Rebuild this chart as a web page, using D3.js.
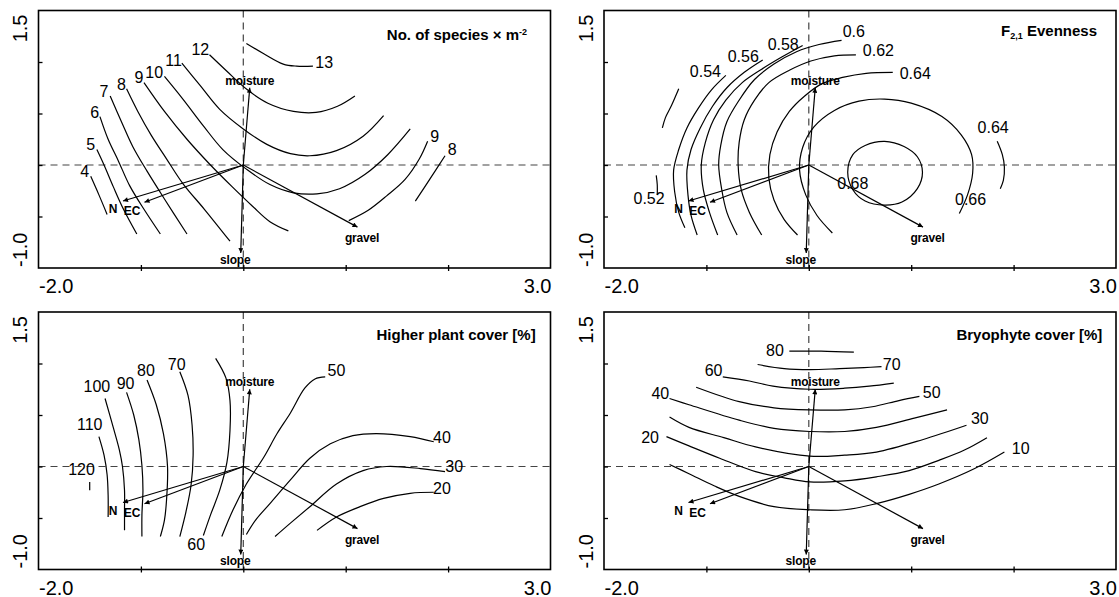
<!DOCTYPE html>
<html>
<head>
<meta charset="utf-8">
<script src="https://cdn.jsdelivr.net/npm/d3@7"></script>
<style>
  body { margin: 0; background: #fff; }
  text { font-family: "Liberation Sans", Arial, sans-serif; }
</style>
</head>
<body>
<svg id="chart" width="1119" height="597"></svg>
<script>
// ---- axes (ordination axes 1 and 2) ----
const xDomain = [-2, 3];
const yDomain = [-1, 1.5];
const xTickValues = [-1, 0, 1, 2];
const yTickValues = [-0.5, 0, 0.5, 1];
const xEndLabels = ["-2.0", "3.0"];
const yEndLabels = ["-1.0", "1.5"];

// ---- environmental variable arrows (same biplot in every panel) ----
const envNames = ["moisture", "slope", "N", "EC", "gravel"];
const envX = [0.063, -0.025, -1.175, -0.965, 1.115];
const envY = [0.75, -0.855, -0.35, -0.362, -0.603];

// ---- panel titles ----
const panelTitles = ["No. of species \u00d7 m", "F", "Higher plant cover [%]", "Bryophyte cover [%]"];

// ---- isolines: number of species per m2 ----
const richnessLevels = [4, 5, 6, 7, 8, 8, 9, 9, 10, 11, 12, 13];
const richnessLines = [
  [[-1.49,-0.11],[-1.41,-0.29],[-1.33,-0.48]],
  [[-1.43,0.15],[-1.36,0.00],[-1.27,-0.21],[-1.17,-0.43],[-1.04,-0.67]],
  [[-1.40,0.47],[-1.32,0.25],[-1.22,0.04],[-1.11,-0.20],[-0.97,-0.43],[-0.81,-0.67]],
  [[-1.30,0.67],[-1.19,0.42],[-1.08,0.18],[-0.94,-0.06],[-0.77,-0.33],[-0.55,-0.67]],
  [[-1.14,0.74],[-1.03,0.52],[-0.90,0.29],[-0.75,0.06],[-0.59,-0.18],[-0.38,-0.43],[-0.13,-0.74]],
  [[1.68,-0.35],[1.82,-0.14],[1.97,0.09]],
  [[-0.97,0.80],[-0.77,0.52],[-0.55,0.25],[-0.33,0.01],[-0.11,-0.21],[0.09,-0.40],[0.26,-0.55],[0.44,-0.64]],
  [[1.03,-0.54],[1.22,-0.44],[1.40,-0.30],[1.58,-0.14],[1.72,0.06],[1.80,0.23]],
  [[-0.77,0.86],[-0.59,0.64],[-0.39,0.38],[-0.20,0.15],[0.03,-0.04],[0.26,-0.19],[0.49,-0.27],[0.72,-0.28],[0.94,-0.23],[1.19,-0.09],[1.41,0.10],[1.63,0.35]],
  [[-0.60,0.99],[-0.42,0.77],[-0.23,0.54],[0.00,0.35],[0.23,0.20],[0.46,0.11],[0.65,0.09],[0.91,0.14],[1.17,0.28],[1.37,0.48]],
  [[-0.33,1.07],[-0.16,0.91],[0.04,0.73],[0.24,0.60],[0.49,0.52],[0.71,0.51],[0.92,0.57],[1.09,0.67]],
  [[0.03,1.18],[0.20,1.08],[0.39,0.98],[0.52,0.96],[0.68,0.96]]
];
const richnessLabels = [["4",-1.55,-0.06],["5",-1.49,0.20],["6",-1.45,0.51],["7",-1.36,0.72],["8",-1.19,0.78],
  ["9",-1.02,0.85],["10",-0.87,0.90],["11",-0.68,1.02],["12",-0.42,1.12],["13",0.79,1.00],["9",1.87,0.28],["8",2.04,0.15]];

// ---- isolines: F2,1 evenness ----
const evennessLevels = [0.52, 0.52, 0.54, 0.56, 0.58, 0.6, 0.62, 0.64, 0.64, 0.66, 0.68];
const evennessLines = [
  [[-1.27,0.74],[-1.34,0.58],[-1.40,0.46],[-1.43,0.36]],
  [[-1.49,-0.10],[-1.48,-0.19],[-1.48,-0.29]],
  [[-0.81,0.87],[-0.95,0.73],[-1.08,0.55],[-1.19,0.36],[-1.27,0.15],[-1.32,-0.05],[-1.31,-0.26],[-1.27,-0.46],[-1.21,-0.61]],
  [[-0.45,1.02],[-0.63,0.90],[-0.80,0.75],[-0.94,0.57],[-1.06,0.36],[-1.15,0.15],[-1.19,-0.05],[-1.18,-0.29],[-1.15,-0.49],[-1.09,-0.68]],
  [[-0.06,1.16],[-0.26,1.05],[-0.46,0.93],[-0.65,0.80],[-0.81,0.63],[-0.93,0.44],[-1.01,0.22],[-1.05,0.00],[-1.03,-0.24],[-0.97,-0.46],[-0.89,-0.68]],
  [[0.32,1.21],[0.10,1.17],[-0.12,1.10],[-0.34,0.98],[-0.53,0.83],[-0.68,0.63],[-0.80,0.42],[-0.86,0.19],[-0.88,0.00],[-0.85,-0.24],[-0.80,-0.46],[-0.70,-0.68]],
  [[0.46,1.07],[0.25,1.06],[0.02,1.01],[-0.19,0.92],[-0.39,0.80],[-0.53,0.63],[-0.63,0.44],[-0.68,0.22],[-0.69,0.00],[-0.66,-0.24],[-0.58,-0.46],[-0.46,-0.68]],
  [[0.82,0.90],[0.56,0.89],[0.33,0.85],[0.13,0.79],[-0.04,0.67],[-0.19,0.52],[-0.31,0.32],[-0.38,0.10],[-0.39,-0.13],[-0.34,-0.34],[-0.24,-0.53],[-0.11,-0.68]],
  [[1.84,0.23],[1.89,0.10],[1.91,-0.02],[1.90,-0.15],[1.87,-0.23]],
  [[0.23,-0.66],[0.08,-0.49],[-0.03,-0.29],[-0.09,-0.05],[-0.06,0.17],[0.05,0.37],[0.25,0.53],[0.49,0.62],[0.74,0.64],[1.00,0.60],[1.30,0.47],[1.49,0.29],[1.59,0.10],[1.60,-0.08],[1.55,-0.29],[1.47,-0.47]],
  [[0.38,-0.07],[0.43,0.10],[0.55,0.19],[0.74,0.23],[0.93,0.18],[1.06,0.08],[1.11,-0.07],[1.06,-0.23],[0.91,-0.36],[0.74,-0.39],[0.55,-0.35],[0.43,-0.24]]
];
const evennessClosed = [false, false, false, false, false, false, false, false, false, false, true];
const evennessLabels = [["0.52",-1.56,-0.32],["0.54",-1.01,0.91],["0.56",-0.64,1.06],["0.58",-0.25,1.17],["0.6",0.44,1.30],
  ["0.62",0.68,1.11],["0.64",1.04,0.89],["0.64",1.80,0.37],["0.66",1.58,-0.33],["0.68",0.43,-0.18]];

// ---- isolines: higher plant cover [%] ----
const plantLevels = [120, 110, 100, 90, 80, 70, 60, 50, 40, 30, 20];
const plantLines = [
  [[-1.50,-0.15],[-1.50,-0.23]],
  [[-1.41,0.29],[-1.36,0.11],[-1.33,-0.08],[-1.32,-0.28],[-1.32,-0.49]],
  [[-1.35,0.66],[-1.27,0.38],[-1.21,0.16],[-1.18,0.00],[-1.16,-0.23],[-1.16,-0.42],[-1.16,-0.62]],
  [[-1.14,0.72],[-1.07,0.50],[-1.02,0.26],[-0.99,0.01],[-0.98,-0.23],[-0.99,-0.47],[-0.99,-0.68]],
  [[-0.94,0.84],[-0.85,0.60],[-0.78,0.32],[-0.74,0.00],[-0.75,-0.33],[-0.77,-0.52],[-0.81,-0.68]],
  [[-0.62,0.92],[-0.54,0.69],[-0.50,0.40],[-0.49,0.11],[-0.51,-0.18],[-0.56,-0.44],[-0.62,-0.68]],
  [[-0.27,1.05],[-0.17,0.86],[-0.13,0.64],[-0.13,0.35],[-0.16,0.04],[-0.23,-0.23],[-0.32,-0.47],[-0.39,-0.67]],
  [[0.80,0.87],[0.70,0.85],[0.60,0.76],[0.46,0.52],[0.33,0.32],[0.20,0.09],[0.03,-0.17],[-0.10,-0.42],[-0.21,-0.68]],
  [[1.86,0.24],[1.63,0.29],[1.30,0.32],[1.07,0.30],[0.85,0.22],[0.65,0.08],[0.46,-0.13],[0.26,-0.36],[0.12,-0.52],[0.03,-0.66]],
  [[1.97,-0.05],[1.73,-0.02],[1.40,0.00],[1.17,-0.04],[0.91,-0.17],[0.65,-0.39],[0.46,-0.55],[0.31,-0.68]],
  [[1.86,-0.25],[1.63,-0.26],[1.37,-0.31],[1.14,-0.39],[0.91,-0.49],[0.72,-0.62]]
];
const plantLabels = [["120",-1.58,-0.03],["110",-1.50,0.41],["100",-1.43,0.78],["90",-1.15,0.81],["80",-0.95,0.93],
  ["70",-0.65,0.99],["60",-0.46,-0.75],["50",0.91,0.93],["40",1.94,0.28],["30",2.06,0.00],["20",1.94,-0.21]];

// ---- isolines: bryophyte cover [%] ----
const bryoLevels = [80, 70, 60, 50, 40, 30, 20, 10];
const bryoLines = [
  [[-0.19,1.12],[0.12,1.12],[0.44,1.11]],
  [[-0.50,0.99],[-0.24,0.95],[0.01,0.94],[0.30,0.95],[0.54,0.96],[0.71,0.97]],
  [[-0.84,0.87],[-0.58,0.83],[-0.35,0.78],[0.01,0.75],[0.35,0.76],[0.59,0.78],[0.83,0.81]],
  [[-1.10,0.77],[-0.68,0.63],[-0.34,0.57],[0.01,0.55],[0.35,0.55],[0.62,0.58],[0.88,0.64],[1.08,0.68]],
  [[-1.36,0.66],[-1.17,0.60],[-0.68,0.45],[-0.34,0.37],[0.01,0.34],[0.35,0.34],[0.66,0.38],[1.03,0.47],[1.35,0.55]],
  [[-1.36,0.48],[-1.17,0.38],[-0.83,0.28],[-0.52,0.19],[0.01,0.10],[0.35,0.11],[0.66,0.14],[1.11,0.26],[1.54,0.40]],
  [[-1.39,0.29],[-1.17,0.20],[-0.87,0.08],[-0.52,-0.05],[-0.24,-0.11],[0.01,-0.15],[0.35,-0.14],[0.66,-0.10],[0.98,-0.04],[1.27,0.06],[1.52,0.16],[1.74,0.28]],
  [[-1.36,0.02],[-1.17,-0.07],[-0.92,-0.19],[-0.68,-0.29],[-0.34,-0.39],[0.01,-0.42],[0.35,-0.42],[0.66,-0.36],[0.98,-0.27],[1.27,-0.17],[1.62,-0.02],[1.91,0.14]]
];
const bryoLabels = [["80",-0.33,1.13],["70",0.81,0.99],["60",-0.93,0.93],["50",1.20,0.72],["40",-1.45,0.71],
  ["30",1.67,0.47],["20",-1.55,0.28],["10",2.07,0.18]];

// ---- layout ----
const panelW = 512, panelH = 257.5;
const panelOrigins = [[38.5, 10.5], [604, 10.5], [38.5, 312], [604, 312]];
const titleAnchors = [[488.5, 29.5], [493, 25.2], [497.2, 28], [498.3, 28]];
const envLabelOffset = { moisture: [0, -3], slope: [-5.5, 10.5], N: [-10, 12], EC: [-12.5, 12.8], gravel: [4.5, 15] };

const panels = [
  { lines: richnessLines, closed: null, labels: richnessLabels },
  { lines: evennessLines, closed: evennessClosed, labels: evennessLabels },
  { lines: plantLines, closed: null, labels: plantLabels },
  { lines: bryoLines, closed: null, labels: bryoLabels }
];

const svg = d3.select("#chart");
svg.append("rect").attr("width", 1119).attr("height", 597).attr("fill", "#fff");

svg.append("defs").append("marker")
  .attr("id", "head").attr("viewBox", "0 0 10 10")
  .attr("refX", 10).attr("refY", 5)
  .attr("markerWidth", 7).attr("markerHeight", 5)
  .attr("markerUnits", "userSpaceOnUse").attr("orient", "auto")
  .append("path").attr("d", "M0,0L10,5L0,10Z").attr("fill", "#000");

const x = d3.scaleLinear().domain(xDomain).range([0, panelW]);
const y = d3.scaleLinear().domain(yDomain).range([panelH, 0]);

const openLine = d3.line().x(d => x(d[0])).y(d => y(d[1])).curve(d3.curveCatmullRom.alpha(0.5));
const loopLine = d3.line().x(d => x(d[0])).y(d => y(d[1])).curve(d3.curveCatmullRomClosed.alpha(0.5));

panels.forEach((p, i) => {
  const g = svg.append("g").attr("transform", `translate(${panelOrigins[i][0]},${panelOrigins[i][1]})`);

  // dashed zero lines
  g.append("line").attr("x1", 0).attr("x2", panelW).attr("y1", y(0)).attr("y2", y(0))
    .attr("stroke", "#444").attr("stroke-width", 1.2).attr("stroke-dasharray", "7,5");
  g.append("line").attr("x1", x(0)).attr("x2", x(0)).attr("y1", 0).attr("y2", panelH)
    .attr("stroke", "#444").attr("stroke-width", 1.2).attr("stroke-dasharray", "7,5");

  // isolines
  g.append("g").selectAll("path").data(p.lines).join("path")
    .attr("d", (d, k) => (p.closed && p.closed[k] ? loopLine : openLine)(d))
    .attr("fill", "none").attr("stroke", "#000").attr("stroke-width", 1.2);

  // isoline values
  g.append("g").selectAll("text").data(p.labels).join("text")
    .attr("x", d => x(d[1])).attr("y", d => y(d[2])).attr("dy", "0.36em")
    .attr("text-anchor", "middle").attr("font-size", 16).attr("fill", "#000")
    .text(d => d[0]);

  // environmental arrows
  const env = envNames.map((n, k) => ({ name: n, x: envX[k], y: envY[k] }));
  g.append("g").selectAll("line").data(env).join("line")
    .attr("x1", x(0)).attr("y1", y(0))
    .attr("x2", d => x(d.x)).attr("y2", d => y(d.y))
    .attr("stroke", "#000").attr("stroke-width", 1.2).attr("marker-end", "url(#head)");
  g.append("g").selectAll("text").data(env).join("text")
    .attr("x", d => x(d.x) + envLabelOffset[d.name][0])
    .attr("y", d => y(d.y) + envLabelOffset[d.name][1])
    .attr("text-anchor", "middle").attr("font-size", 12).attr("font-weight", "bold")
    .attr("letter-spacing", "-0.2").text(d => d.name);

  // axes: inward ticks on the left, crossing ticks on the bottom
  g.append("g").call(d3.axisLeft(y).tickValues(yTickValues).tickSize(-4).tickFormat(""))
    .call(a => { a.select(".domain").remove(); a.selectAll(".tick line").attr("stroke-width", 1.3); });
  g.append("g").attr("transform", `translate(0,${panelH})`)
    .call(d3.axisBottom(x).tickValues(xTickValues).tickSize(6).tickFormat(""))
    .call(a => { a.select(".domain").remove(); a.selectAll(".tick line").attr("y1", -3).attr("y2", 3).attr("stroke-width", 1.3); });

  // frame
  g.append("rect").attr("width", panelW).attr("height", panelH)
    .attr("fill", "none").attr("stroke", "#000").attr("stroke-width", 1.6);

  // axis end labels
  g.append("text").attr("x", x(xDomain[0]) + 0.5).attr("y", panelH + 25)
    .attr("font-size", 20).attr("text-anchor", "start").text(xEndLabels[0]);
  g.append("text").attr("x", x(xDomain[1]) + 1).attr("y", panelH + 25)
    .attr("font-size", 20).attr("text-anchor", "end").text(xEndLabels[1]);
  g.append("text").attr("transform", `translate(-11.5,${y(yDomain[0]) - 1}) rotate(-90)`)
    .attr("font-size", 20).attr("text-anchor", "start").text(yEndLabels[0]);
  g.append("text").attr("transform", `translate(-11.5,${y(yDomain[1]) + 4}) rotate(-90)`)
    .attr("font-size", 20).attr("text-anchor", "end").text(yEndLabels[1]);

  // title
  const t = g.append("text").attr("x", titleAnchors[i][0]).attr("y", titleAnchors[i][1])
    .attr("text-anchor", "end").attr("font-size", 15).attr("font-weight", "bold");
  if (i === 0) {
    t.append("tspan").text(panelTitles[0]);
    t.append("tspan").attr("font-size", 9).attr("dy", -5).text("-2");
  } else if (i === 1) {
    t.append("tspan").text(panelTitles[1]);
    t.append("tspan").attr("font-size", 9).attr("dy", 3).text("2,1");
    t.append("tspan").attr("dy", -3).text(" Evenness");
  } else {
    t.text(panelTitles[i]);
  }
});
</script>
</body>
</html>
